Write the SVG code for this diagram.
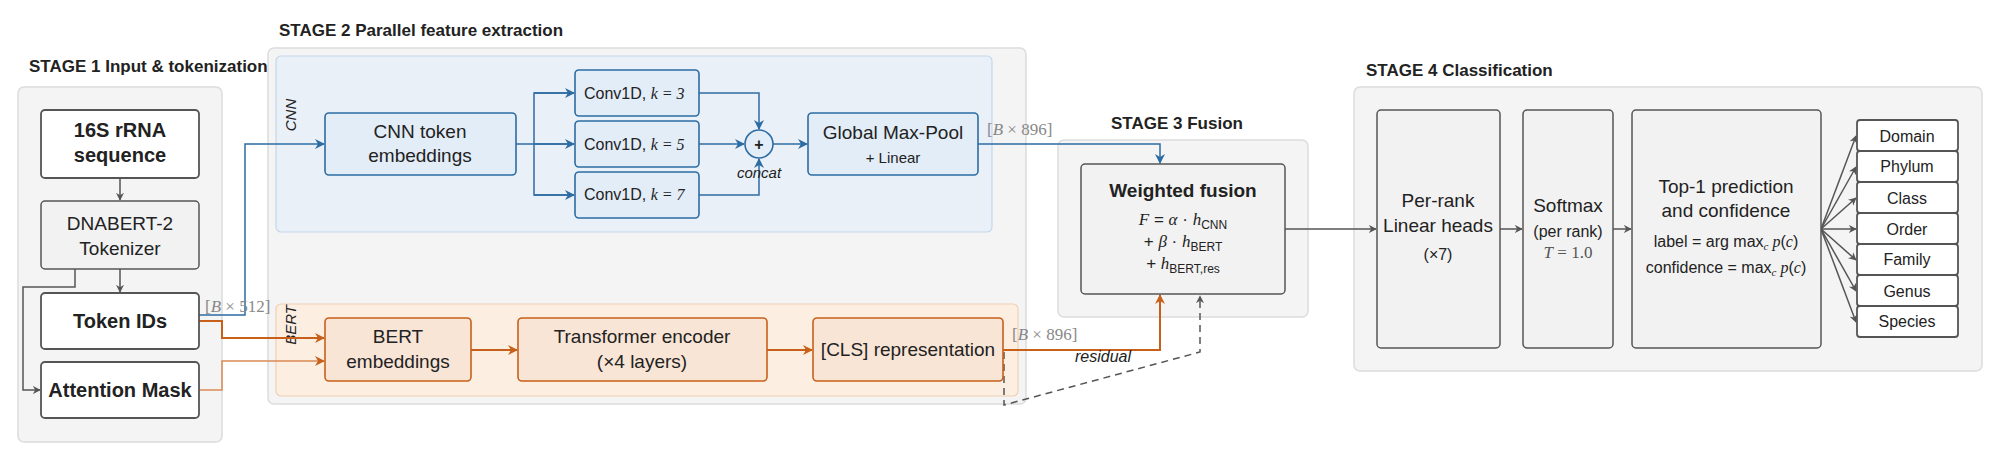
<svg xmlns="http://www.w3.org/2000/svg" width="2000" height="460" viewBox="0 0 2000 460">
<defs>
<style>
text{font-family:"Liberation Sans",Arial,sans-serif;fill:#222}
.t{font-weight:bold;font-size:17px}
.panel{fill:#f4f4f4;stroke:#dcdcdc;stroke-width:1.5}
.wb{fill:#fff;stroke:#555;stroke-width:1.8}
.gb{fill:#f2f2f2;stroke:#555;stroke-width:1.5}
.bb{fill:#e2edf8;stroke:#2d6ca2;stroke-width:1.6}
.ob{fill:#f8e5d6;stroke:#c8601a;stroke-width:1.6}
.c{text-anchor:middle}
.m{font-family:"Liberation Serif","DejaVu Serif",serif;font-style:italic}
.g{fill:none;stroke:#555;stroke-width:1.5}
.bl{fill:none;stroke:#2d6ca2;stroke-width:1.5}
.or{fill:none;stroke:#c8601a;stroke-width:2}
.dim{font-family:"Liberation Serif",serif;fill:#888;font-size:17px}
</style>
<marker id="ag" viewBox="0 0 10 10" refX="9" refY="5" markerWidth="8" markerHeight="8" orient="auto-start-reverse" markerUnits="userSpaceOnUse"><path d="M0,0L10,5L0,10L3,5z" fill="#555"/></marker>
<marker id="ab" viewBox="0 0 10 10" refX="9" refY="5" markerWidth="10" markerHeight="10" orient="auto" markerUnits="userSpaceOnUse"><path d="M0,0L10,5L0,10L3,5z" fill="#2d6ca2"/></marker>
<marker id="ao" viewBox="0 0 10 10" refX="9" refY="5" markerWidth="10" markerHeight="10" orient="auto" markerUnits="userSpaceOnUse"><path d="M0,0L10,5L0,10L3,5z" fill="#c8601a"/></marker>
</defs>
<rect width="2000" height="460" fill="#fff"/>

<!-- panels -->
<g id="stage1">
<rect class="panel" x="18" y="87" width="204" height="355" rx="6"/>
<text class="t" x="29" y="72">STAGE 1  Input &amp; tokenization</text>
</g>
<g id="stage2">
<rect class="panel" x="268" y="48" width="758" height="356" rx="6"/>
<text class="t" x="279" y="36">STAGE 2  Parallel feature extraction</text>
<rect x="276" y="56" width="716" height="176" rx="5" fill="#e9f0f8" stroke="#c4d8eb" stroke-width="1.2"/>
<rect x="276" y="304" width="742" height="92" rx="5" fill="#fcefe2" stroke="#f0d0b2" stroke-width="1.2"/>
<text x="0" y="0" transform="translate(296,115) rotate(-90)" class="c" style="font-size:15px;font-style:italic">CNN</text>
<text x="0" y="0" transform="translate(296,325) rotate(-90)" class="c" style="font-size:15px;font-style:italic">BERT</text>
</g>
<g id="stage3">
<rect class="panel" x="1058" y="140" width="250" height="177" rx="6"/>
<text class="t" x="1111" y="129">STAGE 3  Fusion</text>
</g>
<g id="stage4">
<rect class="panel" x="1354" y="87" width="628" height="284" rx="6"/>
<text class="t" x="1366" y="76">STAGE 4  Classification</text>
</g>

<!-- connectors -->
<g id="connectors">
<line class="g" x1="120" y1="178" x2="120" y2="200" marker-end="url(#ag)"/>
<line class="g" x1="120" y1="269" x2="120" y2="292" marker-end="url(#ag)"/>
<path class="g" d="M75,269V287H23V390H40" marker-end="url(#ag)"/>
<path class="bl" d="M199,315H245V144H324" marker-end="url(#ab)"/>
<path class="or" d="M199,321H222V338H324" marker-end="url(#ao)"/>
<path fill="none" stroke="#d98a55" stroke-width="1.5" d="M199,390H222V361H324" marker-end="url(#ao)"/>
<path class="bl" d="M516,144H534V93H574M534,144H574M534,144V195H574" />
<line class="bl" x1="534" y1="93" x2="574" y2="93" marker-end="url(#ab)"/>
<line class="bl" x1="534" y1="144" x2="574" y2="144" marker-end="url(#ab)"/>
<line class="bl" x1="534" y1="195" x2="574" y2="195" marker-end="url(#ab)"/>
<path class="bl" d="M699,93H759V129" marker-end="url(#ab)"/>
<line class="bl" x1="699" y1="144" x2="744" y2="144" marker-end="url(#ab)"/>
<path class="bl" d="M699,195H759V159" marker-end="url(#ab)"/>
<line class="bl" x1="773" y1="144" x2="807" y2="144" marker-end="url(#ab)"/>
<path class="bl" d="M978,144H1160V163" marker-end="url(#ab)"/>
<line class="or" x1="471" y1="350" x2="517" y2="350" marker-end="url(#ao)"/>
<line class="or" x1="767" y1="350" x2="812" y2="350" marker-end="url(#ao)"/>
<path class="or" d="M1003,350H1160V295" marker-end="url(#ao)"/>
<path fill="none" stroke="#555" stroke-width="1.5" stroke-dasharray="7,5" d="M1004,352V405L1200,352V296" marker-end="url(#ag)"/>
<line class="g" x1="1285" y1="229" x2="1376" y2="229" marker-end="url(#ag)"/>
<line class="g" x1="1500" y1="229" x2="1522" y2="229" marker-end="url(#ag)"/>
<line class="g" x1="1613" y1="229" x2="1631" y2="229" marker-end="url(#ag)"/>
<g class="g">
<line x1="1821" y1="229" x2="1856" y2="136" marker-end="url(#ag)"/>
<line x1="1821" y1="229" x2="1856" y2="167" marker-end="url(#ag)"/>
<line x1="1821" y1="229" x2="1856" y2="198" marker-end="url(#ag)"/>
<line x1="1821" y1="229" x2="1856" y2="229" marker-end="url(#ag)"/>
<line x1="1821" y1="229" x2="1856" y2="260" marker-end="url(#ag)"/>
<line x1="1821" y1="229" x2="1856" y2="291" marker-end="url(#ag)"/>
<line x1="1821" y1="229" x2="1856" y2="322" marker-end="url(#ag)"/>
</g>
<text class="dim" x="205" y="312">[<tspan font-style="italic">B</tspan> × 512]</text>
<text class="dim" x="987" y="135">[<tspan font-style="italic">B</tspan> × 896]</text>
<text class="dim" x="1012" y="340">[<tspan font-style="italic">B</tspan> × 896]</text>
<text class="c" x="1103" y="362" style="font-size:16px;font-style:italic">residual</text>
<text class="c" x="759" y="178" style="font-size:15px;font-style:italic">concat</text>
</g>

<!-- nodes -->
<g id="n16s"><rect class="wb" x="41" y="110" width="158" height="68" rx="4"/>
<text class="c" x="120" y="137" style="font-size:20px;font-weight:bold">16S rRNA</text>
<text class="c" x="120" y="162" style="font-size:20px;font-weight:bold">sequence</text></g>
<g id="ntok"><rect class="gb" x="41" y="201" width="158" height="68" rx="4"/>
<text class="c" x="120" y="230" style="font-size:19px">DNABERT-2</text>
<text class="c" x="120" y="255" style="font-size:19px">Tokenizer</text></g>
<g id="nids"><rect class="wb" x="41" y="293" width="158" height="56" rx="4"/>
<text class="c" x="120" y="328" style="font-size:20px;font-weight:bold">Token IDs</text></g>
<g id="nmask"><rect class="wb" x="41" y="362" width="158" height="56" rx="4"/>
<text class="c" x="120" y="397" style="font-size:20px;font-weight:bold">Attention Mask</text></g>

<g id="ncnnemb"><rect class="bb" x="325" y="113" width="191" height="62" rx="4"/>
<text class="c" x="420" y="138" style="font-size:19px">CNN token</text>
<text class="c" x="420" y="162" style="font-size:19px">embeddings</text></g>
<g id="nk3"><rect class="bb" x="575" y="70" width="124" height="46" rx="4"/>
<text x="584" y="99" style="font-size:16px">Conv1D, <tspan class="m">k</tspan><tspan class="m" font-style="normal"> = 3</tspan></text></g>
<g id="nk5"><rect class="bb" x="575" y="121" width="124" height="46" rx="4"/>
<text x="584" y="150" style="font-size:16px">Conv1D, <tspan class="m">k</tspan><tspan class="m" font-style="normal"> = 5</tspan></text></g>
<g id="nk7"><rect class="bb" x="575" y="172" width="124" height="46" rx="4"/>
<text x="584" y="200" style="font-size:16px">Conv1D, <tspan class="m">k</tspan><tspan class="m" font-style="normal"> = 7</tspan></text></g>
<g id="nconcat"><circle cx="759" cy="144" r="14" fill="#e2edf8" stroke="#2d6ca2" stroke-width="1.6"/>
<text class="c" x="759" y="150" style="font-size:16px;font-weight:bold">+</text></g>
<g id="npool"><rect class="bb" x="808" y="113" width="170" height="62" rx="4"/>
<text class="c" x="893" y="139" style="font-size:19px">Global Max-Pool</text>
<text class="c" x="893" y="163" style="font-size:15px">+ Linear</text></g>

<g id="nbertemb"><rect class="ob" x="325" y="318" width="146" height="63" rx="4"/>
<text class="c" x="398" y="343" style="font-size:19px">BERT</text>
<text class="c" x="398" y="368" style="font-size:19px">embeddings</text></g>
<g id="ntrans"><rect class="ob" x="518" y="318" width="249" height="63" rx="4"/>
<text class="c" x="642" y="343" style="font-size:19px">Transformer encoder</text>
<text class="c" x="642" y="368" style="font-size:19px">(×4 layers)</text></g>
<g id="ncls"><rect class="ob" x="813" y="318" width="190" height="63" rx="4"/>
<text class="c" x="908" y="356" style="font-size:19px">[CLS] representation</text></g>

<g id="nfusion"><rect class="gb" x="1081" y="164" width="204" height="130" rx="4" stroke-width="1.8"/>
<text class="c" x="1183" y="197" style="font-size:19px;font-weight:bold">Weighted fusion</text>
<text class="c" x="1183" y="225" style="font-size:17px"><tspan class="m">F</tspan> = <tspan class="m">α</tspan> · <tspan class="m">h</tspan><tspan font-size="12" dy="4">CNN</tspan></text>
<text class="c" x="1183" y="247" style="font-size:17px">+ <tspan class="m">β</tspan> · <tspan class="m">h</tspan><tspan font-size="12" dy="4">BERT</tspan></text>
<text class="c" x="1183" y="269" style="font-size:17px">+ <tspan class="m">h</tspan><tspan font-size="12" dy="4">BERT,res</tspan></text></g>

<g id="nheads"><rect class="gb" x="1377" y="110" width="123" height="238" rx="4"/>
<text class="c" x="1438" y="207" style="font-size:19px">Per-rank</text>
<text class="c" x="1438" y="232" style="font-size:19px">Linear heads</text>
<text class="c" x="1438" y="260" style="font-size:16px">(×7)</text></g>
<g id="nsoftmax"><rect class="gb" x="1523" y="110" width="90" height="238" rx="4"/>
<text class="c" x="1568" y="212" style="font-size:19px">Softmax</text>
<text class="c" x="1568" y="237" style="font-size:16px">(per rank)</text>
<text class="c" x="1568" y="258" style="font-size:17px;font-family:'Liberation Serif',serif;fill:#555"><tspan font-style="italic">T</tspan> = 1.0</text></g>
<g id="ntop1"><rect class="gb" x="1632" y="110" width="189" height="238" rx="4"/>
<text class="c" x="1726" y="193" style="font-size:19px">Top-1 prediction</text>
<text class="c" x="1726" y="217" style="font-size:19px">and confidence</text>
<text class="c" x="1726" y="247" style="font-size:16px">label = arg max<tspan class="m" font-size="11" dy="3">c</tspan><tspan class="m" dy="-3"> p</tspan>(<tspan class="m">c</tspan>)</text>
<text class="c" x="1726" y="273" style="font-size:16px">confidence = max<tspan class="m" font-size="11" dy="3">c</tspan><tspan class="m" dy="-3"> p</tspan>(<tspan class="m">c</tspan>)</text></g>

<g id="ndomain"><rect class="wb" x="1857" y="120" width="101" height="31" rx="3" stroke-width="1.4"/><text class="c" x="1907" y="142" style="font-size:16px">Domain</text></g>
<g id="nphylum"><rect class="wb" x="1857" y="151" width="101" height="31" rx="3" stroke-width="1.4"/><text class="c" x="1907" y="172" style="font-size:16px">Phylum</text></g>
<g id="nclass"><rect class="wb" x="1857" y="182" width="101" height="31" rx="3" stroke-width="1.4"/><text class="c" x="1907" y="204" style="font-size:16px">Class</text></g>
<g id="norder"><rect class="wb" x="1857" y="213" width="101" height="31" rx="3" stroke-width="1.4"/><text class="c" x="1907" y="235" style="font-size:16px">Order</text></g>
<g id="nfamily"><rect class="wb" x="1857" y="244" width="101" height="31" rx="3" stroke-width="1.4"/><text class="c" x="1907" y="265" style="font-size:16px">Family</text></g>
<g id="ngenus"><rect class="wb" x="1857" y="275" width="101" height="31" rx="3" stroke-width="1.4"/><text class="c" x="1907" y="297" style="font-size:16px">Genus</text></g>
<g id="nspecies"><rect class="wb" x="1857" y="306" width="101" height="31" rx="3" stroke-width="1.4"/><text class="c" x="1907" y="327" style="font-size:16px">Species</text></g>
</svg>
